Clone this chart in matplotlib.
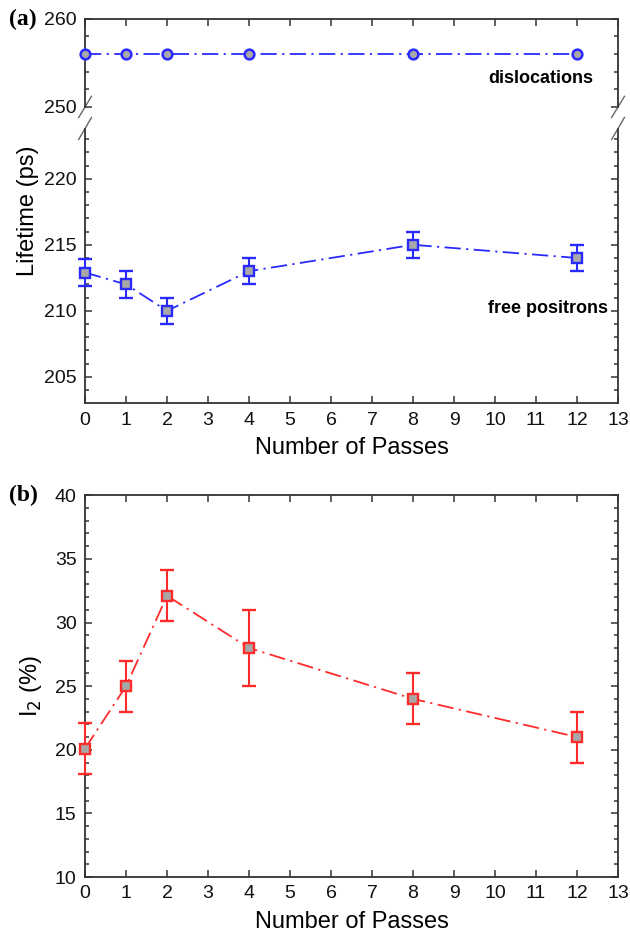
import numpy as np
import matplotlib.pyplot as plt

plt.rcParams["font.family"] = ["Liberation Sans", "DejaVu Sans"]

# ---- data ----
passes = [0, 1, 2, 4, 8, 12]
disloc = [256, 256, 256, 256, 256, 256]
free_pos = [212.9, 212.0, 210.0, 213.0, 215.0, 214.0]
free_err = [1, 1, 1, 1, 1, 1]
i2 = [20.1, 25.0, 32.1, 28.0, 24.0, 21.0]
i2_err = [2, 2, 2, 3, 2, 2]

blue = "#2a2aff"
red = "#ff2a2a"
grey = "#a8a8a8"
spine_c = "#333333"
ls = (0, (9, 3, 1.2, 3))

fig = plt.figure(figsize=(6.3, 9.38), dpi=100)

L, W = 0.135, 0.846
ax_up = fig.add_axes([L, 0.886, W, 0.094])
ax_lo = fig.add_axes([L, 0.570, W, 0.293])
ax_b = fig.add_axes([L, 0.065, W, 0.407])


def style(ax, xlabels=True):
    for s in ax.spines.values():
        s.set_color(spine_c)
        s.set_linewidth(1.3)
    ax.tick_params(which="both", direction="in", top=True, right=True,
                   colors=spine_c, labelcolor="#111111", labelsize=14, width=1.1)
    ax.tick_params(which="major", length=5, pad=6)
    ax.tick_params(which="minor", length=3)
    ax.set_xlim(0, 13)
    ax.set_xticks(range(0, 14))
    if not xlabels:
        ax.tick_params(labelbottom=False)


# upper part of (a): dislocations
ax_up.plot(passes, disloc, color=blue, lw=1.3, linestyle=ls, marker="o",
           ms=7, mfc=grey, mec=blue, mew=1.8, clip_on=False, zorder=5)
ax_up.set_ylim(250, 260)
ax_up.set_yticks([250, 260])
ax_up.set_yticks(np.arange(250, 261, 2), minor=True)
style(ax_up, xlabels=False)
ax_up.spines["bottom"].set_visible(False)
ax_up.tick_params(which="both", bottom=False)
ax_up.text(12.4, 253.2, "dislocations", ha="right", va="center",
           fontsize=13, fontweight="bold")

# lower part of (a): free positrons
ax_lo.errorbar(passes, free_pos, yerr=free_err, color=blue, lw=1.3, linestyle=ls,
               marker="s", ms=7.5, mfc=grey, mec=blue, mew=1.7, capsize=5,
               elinewidth=1.5, capthick=1.5, clip_on=False, zorder=5)
ax_lo.set_ylim(203, 223.8)
ax_lo.set_yticks([205, 210, 215, 220])
ax_lo.set_yticks(np.arange(204, 224, 1), minor=True)
style(ax_lo)
ax_lo.spines["top"].set_visible(False)
ax_lo.tick_params(which="both", top=False)
ax_lo.text(12.75, 210.2, "free positrons", ha="right", va="center",
           fontsize=13, fontweight="bold")
ax_lo.set_xlabel("Number of Passes", fontsize=17, labelpad=6)

# break marks
kw = dict(color="#666666", lw=1.0, clip_on=False)
for xa in (0, 1):
    ax_up.plot([xa - 0.012, xa + 0.012], [-0.12, 0.12], transform=ax_up.transAxes, **kw)
    ax_lo.plot([xa - 0.012, xa + 0.012], [0.96, 1.04], transform=ax_lo.transAxes, **kw)

fig.text(0.044, 0.775, "Lifetime (ps)", rotation=90, ha="center", va="center", fontsize=17)
fig.text(0.015, 0.979, "(a)", fontsize=17, fontweight="bold",
         family=["Liberation Serif", "DejaVu Serif"], va="center")

# (b): I2
ax_b.errorbar(passes, i2, yerr=i2_err, color=red, lw=1.3, linestyle=ls,
              marker="s", ms=7.5, mfc=grey, mec=red, mew=1.7, capsize=5,
              elinewidth=1.5, capthick=1.5, clip_on=False, zorder=5)
ax_b.set_ylim(10, 40)
ax_b.set_yticks(range(10, 41, 5))
ax_b.set_yticks(range(10, 41, 1), minor=True)
style(ax_b)
ax_b.set_xlabel("Number of Passes", fontsize=17, labelpad=6)
ax_b.set_ylabel(r"I$_2$ (%)", fontsize=17, labelpad=8)
fig.text(0.015, 0.472, "(b)", fontsize=17, fontweight="bold",
         family=["Liberation Serif", "DejaVu Serif"], va="center")

fig.savefig("out.png", dpi=100)
